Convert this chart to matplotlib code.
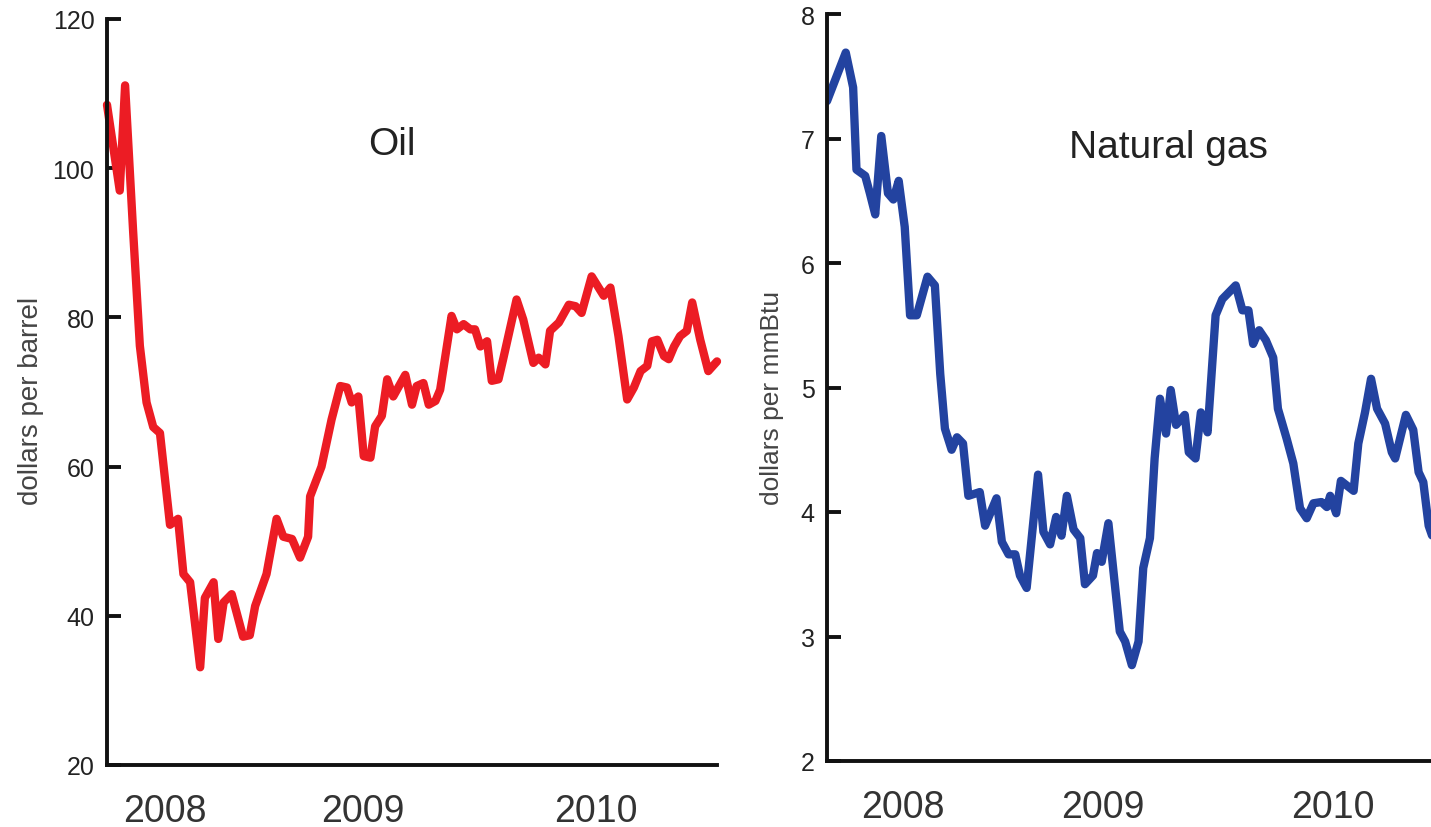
import matplotlib
matplotlib.use("Agg")
import matplotlib.pyplot as plt

plt.rcParams['font.family'] = ['Liberation Sans', 'DejaVu Sans']

# weeks since start of window, prices
oil_weeks = [0.0, 1.9, 2.7, 3.9, 4.9, 5.9, 6.9, 7.9, 9.4, 10.6, 11.4, 12.4, 13.9, 14.6,
             15.9, 16.6, 17.4, 18.6, 20.3, 21.3, 22.1, 23.8, 25.3, 26.3, 27.6, 28.8,
             30.0, 30.3, 32.0, 33.5, 34.8, 35.8, 36.5, 37.5, 38.3, 39.3, 40.0, 41.0,
             41.8, 42.7, 44.5, 45.5, 46.2, 47.2, 48.0, 49.0, 49.7, 51.4, 52.2, 53.2,
             54.2, 54.9, 55.7, 56.7, 57.4, 58.4, 59.1, 61.1, 62.1, 63.6, 64.4, 65.4,
             66.1, 67.4, 68.9, 69.9, 70.8, 72.3, 74.1, 75.1, 76.3, 77.6, 78.6, 79.6,
             80.6, 81.3, 82.1, 83.1, 83.8, 84.6, 85.5, 86.5, 87.3, 88.5, 89.7, 91.0]
oil_price = [108.5, 97.0, 111.1, 91.5, 76.2, 68.6, 65.3, 64.5, 52.2, 53.0, 45.6, 44.5,
             33.1, 42.4, 44.5, 36.9, 41.8, 42.9, 37.2, 37.4, 41.3, 45.6, 53.0, 50.6,
             50.3, 47.8, 50.6, 56.0, 60.0, 66.3, 70.8, 70.6, 68.6, 69.4, 61.4, 61.2,
             65.4, 66.8, 71.7, 69.4, 72.3, 68.3, 70.8, 71.2, 68.3, 68.8, 70.3, 80.2,
             78.4, 79.1, 78.4, 78.4, 76.1, 76.8, 71.5, 71.7, 74.4, 82.4, 79.7, 73.9,
             74.6, 73.7, 78.2, 79.3, 81.7, 81.5, 80.6, 85.5, 82.9, 84.0, 77.5, 69.0,
             70.6, 72.8, 73.5, 76.8, 77.0, 74.8, 74.4, 76.1, 77.5, 78.2, 82.0, 77.0,
             72.8, 74.1]

gas_weeks = [0.0, 2.8, 3.9, 4.4, 5.7, 6.4, 7.2, 8.1, 9.1, 9.9, 10.7, 11.6, 12.4, 13.4,
             15.0, 16.1, 16.9, 17.6, 18.6, 19.4, 20.3, 21.1, 22.8, 23.6, 25.3, 26.1,
             27.1, 28.1, 28.8, 29.8, 31.5, 32.3, 33.3, 34.2, 35.0, 35.8, 36.8, 37.8,
             38.5, 39.7, 40.3, 41.0, 42.0, 43.7, 44.5, 45.5, 46.5, 47.2, 48.2, 48.9,
             49.7, 50.6, 51.3, 52.1, 53.4, 54.0, 55.0, 55.8, 56.8, 58.0, 59.0, 61.0,
             62.0, 62.9, 63.6, 64.5, 65.5, 66.6, 67.3, 68.6, 69.6, 70.6, 71.6, 72.6,
             73.8, 74.6, 75.1, 76.0, 76.7, 78.6, 79.3, 80.3, 81.2, 82.1, 83.3, 84.3,
             84.8, 86.4, 87.5, 88.3, 89.0, 89.8, 90.7]
gas_price = [7.30, 7.69, 7.41, 6.75, 6.70, 6.56, 6.39, 7.02, 6.56, 6.51, 6.66, 6.29,
             5.58, 5.58, 5.89, 5.82, 5.11, 4.67, 4.50, 4.60, 4.55, 4.13, 4.16, 3.89,
             4.11, 3.76, 3.66, 3.66, 3.49, 3.39, 4.30, 3.84, 3.74, 3.96, 3.81, 4.13,
             3.86, 3.79, 3.42, 3.49, 3.67, 3.60, 3.91, 3.04, 2.96, 2.77, 2.96, 3.55,
             3.79, 4.43, 4.91, 4.63, 4.98, 4.70, 4.78, 4.48, 4.43, 4.80, 4.64, 5.58,
             5.71, 5.82, 5.62, 5.62, 5.35, 5.46, 5.38, 5.24, 4.83, 4.59, 4.39, 4.03,
             3.95, 4.07, 4.08, 4.04, 4.13, 3.99, 4.25, 4.17, 4.55, 4.80, 5.07, 4.83,
             4.71, 4.48, 4.43, 4.78, 4.66, 4.32, 4.24, 3.89, 3.75]

oil_year_pos = [8.7, 38.1, 73.0]
gas_year_pos = [11.3, 41.2, 75.5]
year_labels = ['2008', '2009', '2010']

W, H = 1431, 828
fig = plt.figure(figsize=(W / 100, H / 100), dpi=100)

ax1 = fig.add_axes([107 / W, (H - 766) / H, 610 / W, 746 / H])
ax2 = fig.add_axes([827 / W, (H - 762) / H, 640 / W, 747 / H])


def style(ax):
    for s in ['top', 'right']:
        ax.spines[s].set_visible(False)
    for s in ['left', 'bottom']:
        ax.spines[s].set_linewidth(2.8)
        ax.spines[s].set_color('#111111')
    ax.tick_params(axis='y', direction='in', length=10, width=2.8, pad=9,
                   labelsize=18, colors='#111111', labelcolor='#222222')
    ax.tick_params(axis='x', length=0, pad=20, labelsize=27, labelcolor='#333333')


ax1.plot(oil_weeks, oil_price, color='#ec1c24', lw=6, solid_joinstyle='round',
         solid_capstyle='round', clip_on=False)
ax1.set_xlim(0, 91)
ax1.set_ylim(20, 120)
ax1.set_yticks([20, 40, 60, 80, 100, 120])
ax1.set_xticks(oil_year_pos)
ax1.set_xticklabels(year_labels)
ax1.set_ylabel('dollars per barrel', fontsize=20, color='#444444')
ax1.yaxis.set_label_coords(-0.104, 0.49)
ax1.text(0.467, 0.832, 'Oil', transform=ax1.transAxes, fontsize=28,
         ha='center', va='center', color='#222222')
style(ax1)

ax2.plot(gas_weeks, gas_price, color='#2343a0', lw=6, solid_joinstyle='round',
         solid_capstyle='round')
ax2.set_xlim(0, 640 / 6.7)
ax2.set_ylim(2, 8)
ax2.set_yticks([2, 3, 4, 5, 6, 7, 8])
ax2.set_xticks(gas_year_pos)
ax2.set_xticklabels(year_labels)
ax2.set_ylabel('dollars per mmBtu', fontsize=19, color='#444444')
ax2.yaxis.set_label_coords(-0.067, 0.487)
ax2.text(0.534, 0.822, 'Natural gas', transform=ax2.transAxes, fontsize=28,
         ha='center', va='center', color='#222222')
style(ax2)

fig.savefig('out.png', dpi=100)
